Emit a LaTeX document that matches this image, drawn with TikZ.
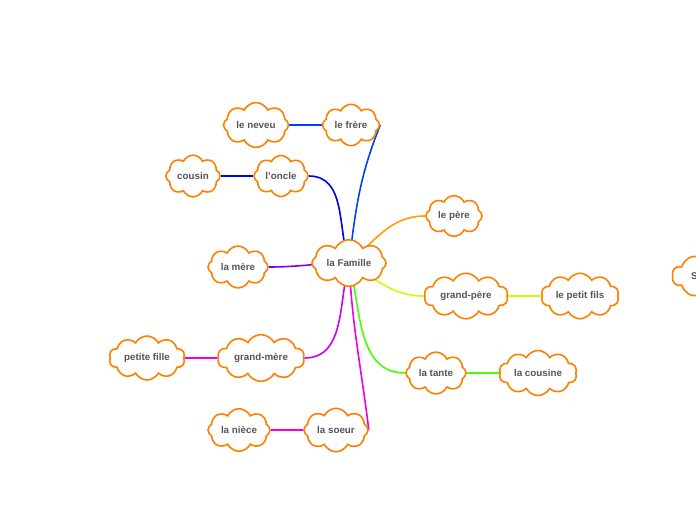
\documentclass[tikz,border=0pt]{standalone}
\usepackage{fontspec}
\setmainfont{Liberation Sans}
\usetikzlibrary{shapes.symbols,backgrounds}
\definecolor{mmorange}{RGB}{255,128,0}
\definecolor{mmtext}{RGB}{85,85,85}
\definecolor{mmblue}{RGB}{0,64,255}
\definecolor{mmdarkblue}{RGB}{0,0,235}
\definecolor{mmgold}{RGB}{255,160,0}
\definecolor{mmviolet}{RGB}{125,0,255}
\definecolor{mmlime}{RGB}{205,255,0}
\definecolor{mmgreen}{RGB}{70,255,0}
\definecolor{mmpurple}{RGB}{200,0,255}
\definecolor{mmpink}{RGB}{240,0,225}
\tikzset{
  cloudbox/.style={cloud,cloud puffs=8,cloud puff arc=130,draw=mmorange,line width=1.6pt,
    fill=white,text=mmtext,font=\fontsize{9.8}{11}\selectfont\bfseries,
    minimum height=37,inner sep=1pt},
  widecloud/.style={cloudbox,cloud puffs=10,cloud puff arc=125},
  edge/.style={line width=1.6pt}
}
\begin{document}
\begin{tikzpicture}[x=1pt,y=-1pt]
\useasboundingbox (0,0) rectangle (696,520);
\clip (0,0) rectangle (696,520);
% ---- clouds ----
\node[cloudbox,minimum width=74,aspect=2.0] (fam) at (349,263) {la Famille};
\node[cloudbox,minimum width=57,aspect=1.54] (fre) at (351,125) {le frère};
\node[cloudbox,minimum width=65,aspect=1.76] (nev) at (256,125) {le neveu};
\node[cloudbox,minimum width=54,aspect=1.46] (onc) at (281,176) {l'oncle};
\node[cloudbox,minimum width=54,aspect=1.46] (cou) at (193,176) {cousin};
\node[cloudbox,minimum width=56,aspect=1.51] (per) at (454,216) {le père};
\node[cloudbox,minimum width=60,aspect=1.62] (mer) at (238,267) {la mère};
\node[widecloud,minimum width=84,aspect=2.27] (gpe) at (466,296) {grand-père};
\node[widecloud,minimum width=78,aspect=2.11] (pfi) at (580,296) {le petit fils};
\node[cloudbox,minimum width=60,aspect=1.62] (tan) at (436,373) {la tante};
\node[widecloud,minimum width=78,aspect=2.11] (cin) at (538,373) {la cousine};
\node[widecloud,minimum width=87,aspect=2.35] (gme) at (261,358) {grand-mère};
\node[widecloud,minimum width=76,aspect=2.05] (pfe) at (147,358) {petite fille};
\node[cloudbox,minimum width=62,aspect=1.68] (nie) at (239,430) {la nièce};
\node[cloudbox,minimum width=64,aspect=1.73] (soe) at (336,430) {la soeur};
\node[widecloud,minimum width=98,aspect=2.65,text width=60,align=left] (sss) at (721,276) {S};
% ---- branches ----
\begin{scope}[on background layer]
\draw[edge,mmblue] (fam.center) to[out=83,in=-112] (fre.east);
\draw[edge,mmblue] (nev) -- (fre);
\draw[edge,mmdarkblue] (fam.center) to[out=108,in=0] (onc.east);
\draw[edge,mmdarkblue] (cou) -- (onc);
\draw[edge,mmgold] (fam.center) to[out=40,in=180] (per.west);
\draw[edge,mmviolet] (fam.center) to[out=180,in=0] (mer.east);
\draw[edge,mmlime] (fam.center) to[out=-30,in=180] (gpe.west);
\draw[edge,mmlime] (gpe) -- (pfi);
\draw[edge,mmgreen] (fam.center) to[out=-75,in=180] (tan.west);
\draw[edge,mmgreen] (tan) -- (cin);
\draw[edge,mmpurple] (fam.center) to[out=-105,in=0] (gme.east);
\draw[edge,mmpink] (pfe) -- (gme);
\draw[edge,mmpink] (fam.center) to[out=-87,in=97] (soe.east);
\draw[edge,mmpink] (nie) -- (soe);
\end{scope}
\end{tikzpicture}
\end{document}
